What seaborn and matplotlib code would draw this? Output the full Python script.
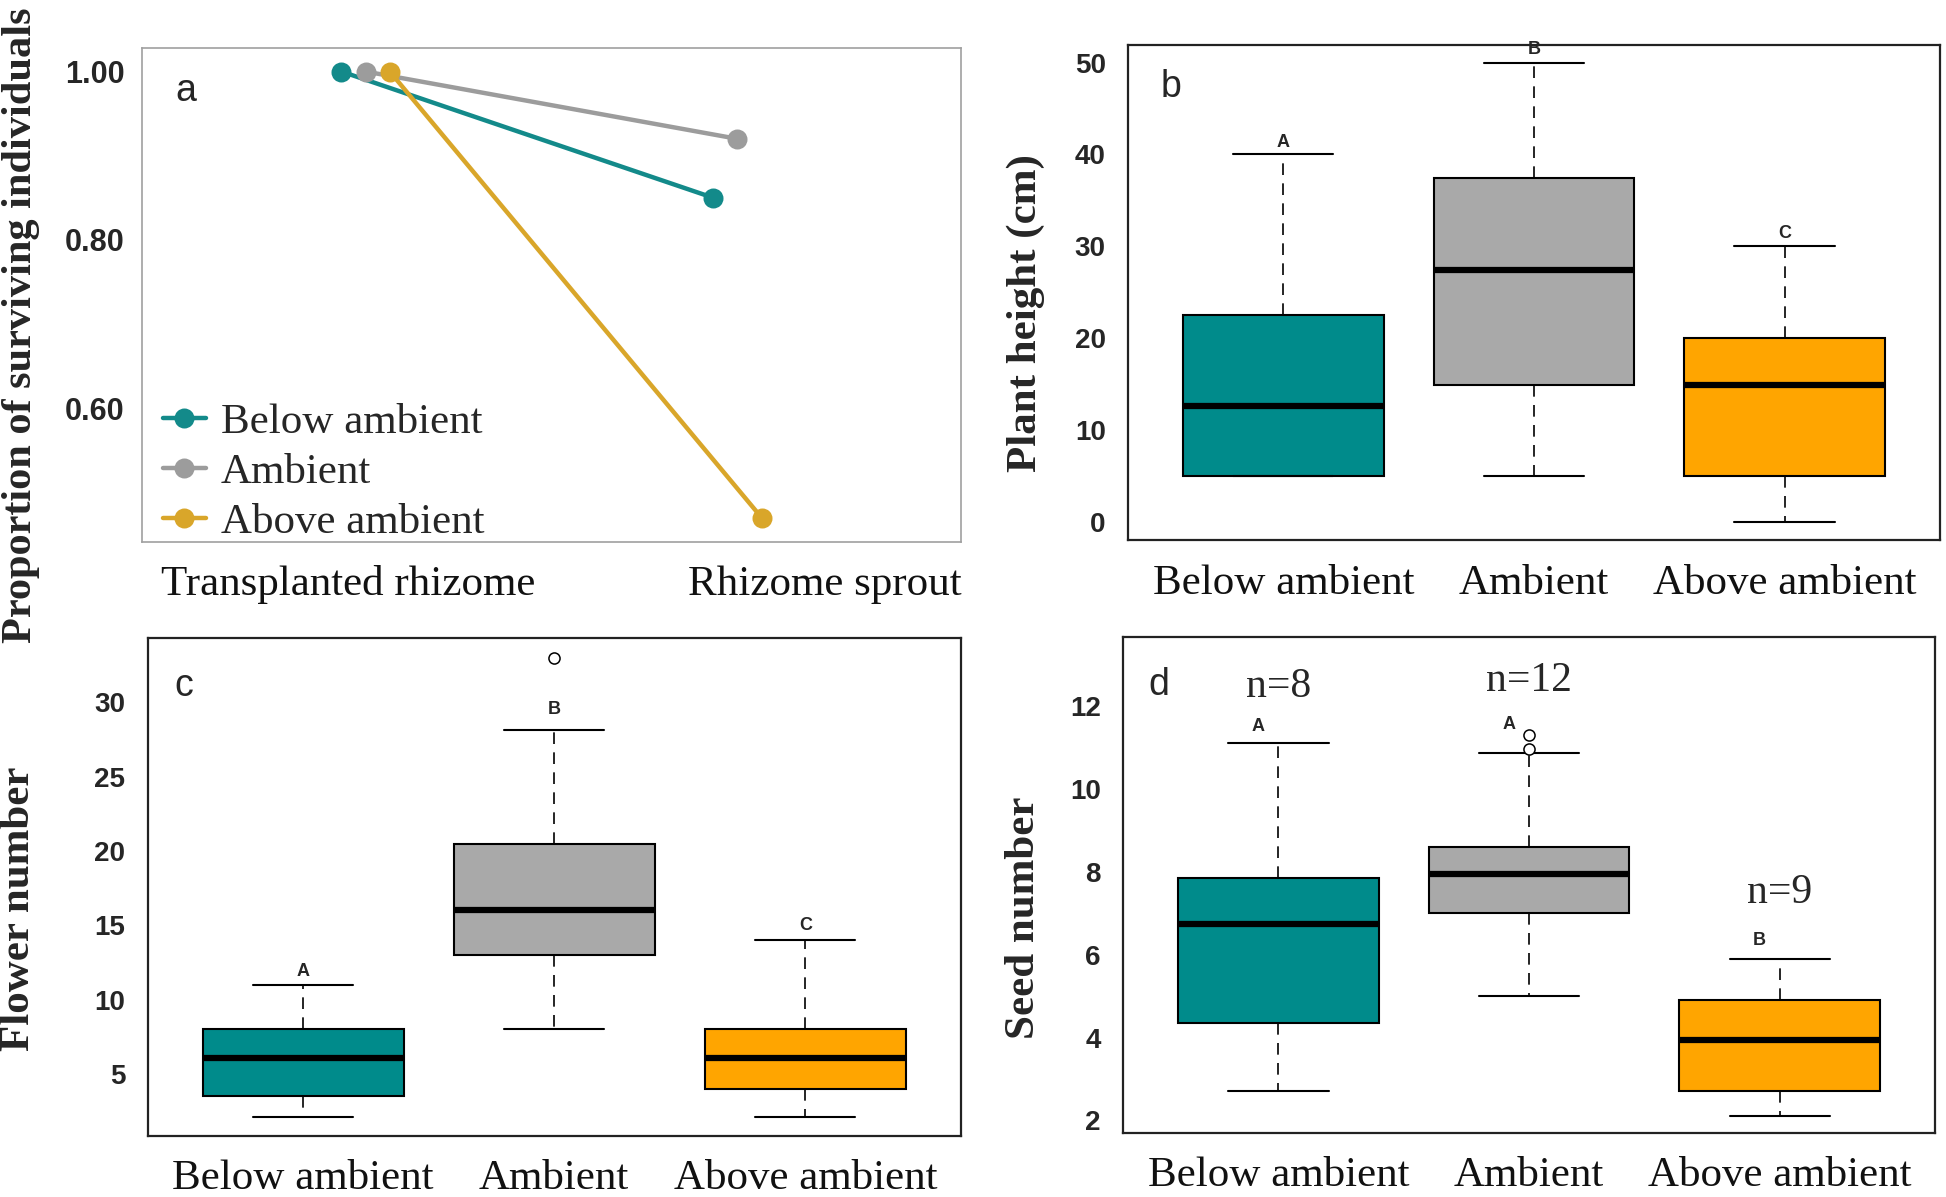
import numpy as np
import pandas as pd
import seaborn as sns
import matplotlib.pyplot as plt
from matplotlib.transforms import ScaledTranslation

groups = ["Below ambient", "Ambient", "Above ambient"]
box_colors = ["#008B8B", "#A9A9A9", "#FFA500"]
line_colors = ["#138A8A", "#9C9C9C", "#D9A62A"]

# panel a: proportion of surviving individuals
stages = ["Transplanted rhizome", "Rhizome sprout"]
surv_below = [1.00, 0.85]
surv_ambient = [1.00, 0.92]
surv_above = [1.00, 0.47]

# panels b-d: min, q1, median, q3, max
height_below = [5, 5, 12.6, 22.5, 40]
height_ambient = [5, 14.9, 27.4, 37.4, 50]
height_above = [0, 5, 14.9, 20, 30]
height_letters = ["A", "B", "C"]
height_letter_y = [41.3, 51.4, 31.4]

flower_below = [2.1, 3.5, 6.1, 8, 11]
flower_ambient = [8, 13, 16, 20.5, 28.1]
flower_above = [2.1, 4, 6.1, 8, 14]
flower_outliers = {"Ambient": [33]}
flower_letters = ["A", "B", "C"]
flower_letter_y = [11.9, 29.5, 15.0]

seed_below = [2.7, 4.35, 6.75, 7.85, 11.1]
seed_ambient = [5.0, 7.0, 7.95, 8.6, 10.85]
seed_above = [2.1, 2.7, 3.95, 4.9, 5.9]
seed_outliers = {"Ambient": [10.95, 11.3]}
seed_letters = ["A", "A", "B"]
seed_letter_y = [11.5, 11.55, 6.35]
seed_n = ["n=8", "n=12", "n=9"]
seed_n_y = [12.45, 12.6, 7.5]

serif = ["Liberation Serif", "DejaVu Serif"]
sans = ["Liberation Sans", "DejaVu Sans"]

sns.set_style("white")
plt.rcParams["font.family"] = serif

fig = plt.figure(figsize=(19.46, 11.97), dpi=100)
ax_a = fig.add_axes([0.0732, 0.5475, 0.4204, 0.4128])
ax_b = fig.add_axes([0.5796, 0.5485, 0.4173, 0.4142])
ax_c = fig.add_axes([0.0758, 0.0507, 0.4180, 0.4165])
ax_d = fig.add_axes([0.5771, 0.0532, 0.4173, 0.4150])


def style_ticks(ax, ysize):
    for lbl in ax.get_yticklabels():
        lbl.set_fontfamily(sans)
        lbl.set_fontweight("bold")
        lbl.set_fontsize(ysize)
    for lbl in ax.get_xticklabels():
        lbl.set_fontfamily(serif)
        lbl.set_fontsize(31)
        lbl.set_color("#111111")


# ---- panel a
surv = pd.DataFrame({
    "stage": stages * 3,
    "treatment": np.repeat(groups, len(stages)),
    "proportion": surv_below + surv_ambient + surv_above,
})
sns.pointplot(data=surv, x="stage", y="proportion", hue="treatment", order=stages,
              hue_order=groups, palette=line_colors, dodge=0.13, markers="o",
              markersize=12, linewidth=3.2, errorbar=None, ax=ax_a)
handles, labels = ax_a.get_legend_handles_labels()
ax_a.legend(handles, labels, loc="lower left", bbox_to_anchor=(0.004, -0.035),
            frameon=False, prop={"family": serif, "size": 31}, handlelength=1.0,
            handletextpad=0.35, labelspacing=0.25, borderaxespad=0)
ax_a.set_xlim(-0.6, 1.6)
ax_a.set_ylim(0.4415, 1.0285)
ax_a.set_yticks([0.6, 0.8, 1.0])
ax_a.set_yticklabels(["0.60", "0.80", "1.00"])
ax_a.set_xlabel("")
ax_a.set_ylabel("")
for s in ax_a.spines.values():
    s.set_color("#a0a0a0")
    s.set_linewidth(1.2)
ax_a.tick_params(axis="both", length=6, width=1.2, color="#a0a0a0", direction="out")
ax_a.tick_params(axis="y", pad=7)
ax_a.tick_params(axis="x", pad=11)
style_ticks(ax_a, 22)
# the stage labels sit a little off their ticks in the original
for lbl, dx in zip(ax_a.get_xticklabels(), [-17, 87]):
    lbl.set_transform(lbl.get_transform() + ScaledTranslation(dx / 100, 0, fig.dpi_scale_trans))
ax_a.text(0.053, 0.913, "a", transform=ax_a.transAxes, family=sans, fontsize=27,
          ha="center", va="center")


# ---- box panels
def draw_boxes(ax, summaries, outliers, ylim, yticks, letters, letter_y, letter_dx=0.0):
    long = pd.DataFrame({"group": np.repeat(groups, 5), "value": np.concatenate(summaries)})
    sns.boxplot(data=long, x="group", y="value", hue="group", order=groups, hue_order=groups,
                palette=box_colors, saturation=1, width=0.8, whis=(0, 100), linewidth=1.5,
                linecolor="black", legend=False, ax=ax,
                medianprops={"linewidth": 4.5},
                whiskerprops={"linestyle": (0, (7, 5)), "linewidth": 1.2},
                capprops={"linewidth": 1.5})
    for grp, vals in outliers.items():
        sns.stripplot(x=[grp] * len(vals), y=vals, order=groups, jitter=False, color="white",
                      edgecolor="black", linewidth=1.1, size=8, ax=ax)
    for i, (let, y) in enumerate(zip(letters, letter_y)):
        ax.text(i + letter_dx, y, let, family=sans, fontweight="bold", fontsize=13,
                ha="center", va="center")
    ax.set_xlim(-0.62, 2.62)
    ax.set_ylim(*ylim)
    ax.set_yticks(yticks)
    ax.set_yticklabels([str(t) for t in yticks])
    ax.set_xlabel("")
    ax.set_ylabel("")
    for s in ax.spines.values():
        s.set_color("#222222")
        s.set_linewidth(1.6)
    ax.tick_params(axis="both", length=13, width=1.5, color="#333333", direction="out")
    ax.tick_params(axis="y", pad=3)
    ax.tick_params(axis="x", pad=4)
    style_ticks(ax, 20)


draw_boxes(ax_b, [height_below, height_ambient, height_above], {}, (-2.0, 51.95),
           [0, 10, 20, 30, 40, 50], height_letters, height_letter_y)
ax_b.text(0.053, 0.915, "b", transform=ax_b.transAxes, family=sans, fontsize=27,
          ha="center", va="center")

draw_boxes(ax_c, [flower_below, flower_ambient, flower_above], flower_outliers, (0.82, 34.33),
           [5, 10, 15, 20, 25, 30], flower_letters, flower_letter_y)
ax_c.text(0.045, 0.904, "c", transform=ax_c.transAxes, family=sans, fontsize=27,
          ha="center", va="center")

draw_boxes(ax_d, [seed_below, seed_ambient, seed_above], seed_outliers, (1.69, 13.67),
           [2, 4, 6, 8, 10, 12], seed_letters, seed_letter_y, letter_dx=-0.08)
ax_d.text(0.044, 0.902, "d", transform=ax_d.transAxes, family=sans, fontsize=27,
          ha="center", va="center")
for i, (lab, y) in enumerate(zip(seed_n, seed_n_y)):
    ax_d.text(i, y, lab, family=serif, fontsize=30, ha="center", va="center")

# y axis titles
fig.text(0.011, 0.7285, "Proportion of surviving individuals", rotation=90, family=serif,
         fontweight="bold", fontsize=30.5, ha="center", va="center")
fig.text(0.527, 0.7385, "Plant height (cm)", rotation=90, family=serif,
         fontweight="bold", fontsize=31, ha="center", va="center")
fig.text(0.0098, 0.2406, "Flower number", rotation=90, family=serif,
         fontweight="bold", fontsize=31, ha="center", va="center")
fig.text(0.526, 0.233, "Seed number", rotation=90, family=serif,
         fontweight="bold", fontsize=31, ha="center", va="center")

fig.savefig("out.png", dpi=100)
